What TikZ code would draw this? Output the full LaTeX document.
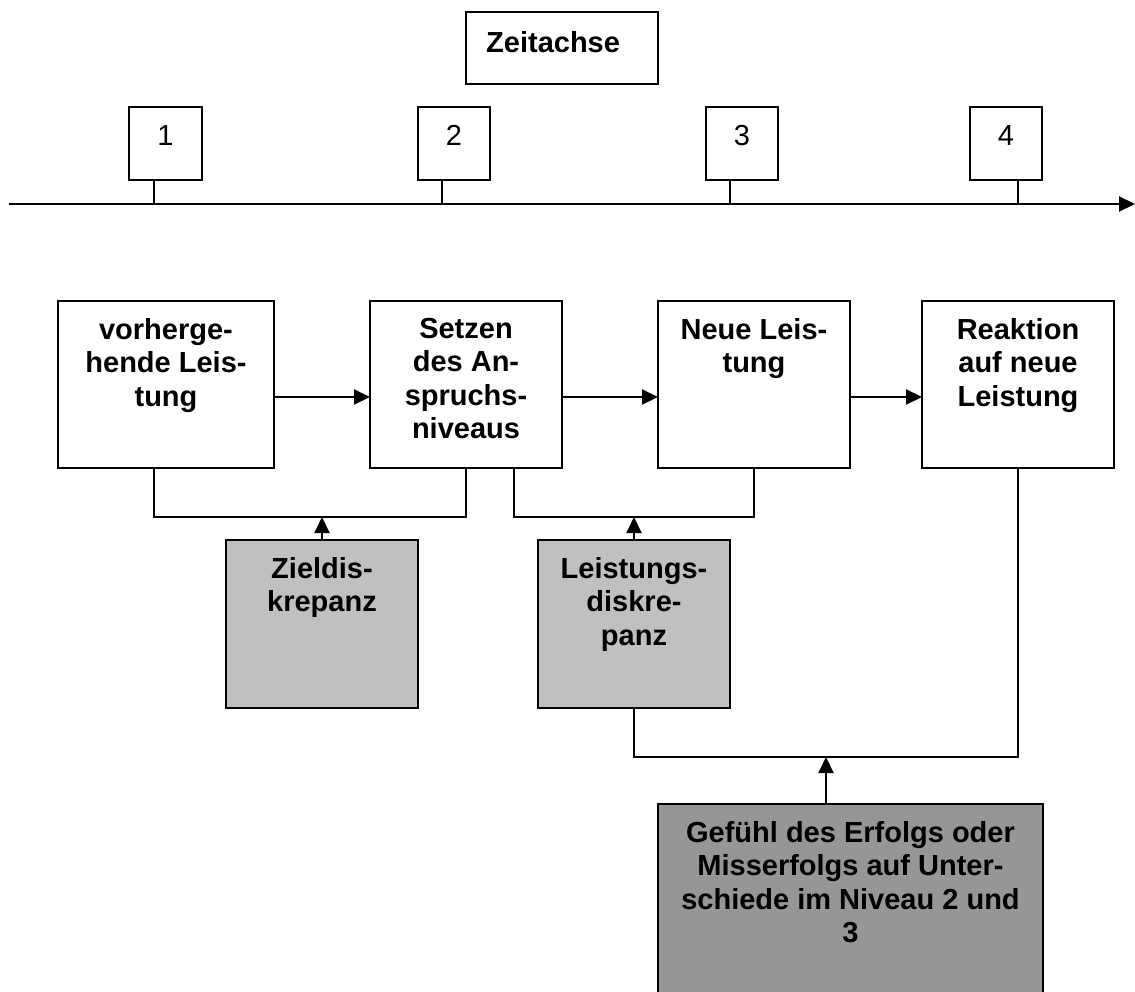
\documentclass[tikz,border=0pt]{standalone}
\usepackage{fontspec}
\setmainfont{Liberation Sans}
\usetikzlibrary{arrows.meta}
\definecolor{lightgrey}{HTML}{C0C0C0}
\definecolor{darkgrey}{HTML}{969696}
\tikzset{
  box/.style={draw=black, line width=2pt, fill=white, rectangle, inner sep=0pt, outer sep=0pt, anchor=north west},
  lbox/.style={box, fill=lightgrey},
  dbox/.style={box, fill=darkgrey},
  txt/.style={font=\bfseries\fontsize{29}{33.5}\selectfont, align=center, inner sep=0pt, anchor=north},
  num/.style={font=\fontsize{29}{33.5}\selectfont, inner sep=0pt, anchor=north},
  conn/.style={line width=2pt},
  arr/.style={line width=2pt, -{Triangle[length=16pt,width=15pt]}}
}
\begin{document}
\begin{tikzpicture}[x=1pt,y=-1pt]
\useasboundingbox (0,0) rectangle (1135,991);
\clip (0,0) rectangle (1135,991);
% time axis
\node[box, minimum width=192pt, minimum height=72pt] (zeit) at (466,12) {};
\node[txt, anchor=north west] (zeitT) at ([xshift=20pt,yshift=-19pt]zeit.north west) {Zeitachse};
\coordinate (axL) at (9,204);
\coordinate (axR) at (1135,204);
\draw[arr] (axL) -- (axR);
\node[box, minimum width=73pt, minimum height=73pt] (t1) at (129,107) {};
\node[box, minimum width=72pt, minimum height=73pt] (t2) at (418,107) {};
\node[box, minimum width=72pt, minimum height=73pt] (t3) at (706,107) {};
\node[box, minimum width=72pt, minimum height=73pt] (t4) at (970,107) {};
\node[num] (n1) at ([yshift=-18pt]t1.north) {1};
\node[num] (n2) at ([yshift=-18pt]t2.north) {2};
\node[num] (n3) at ([yshift=-18pt]t3.north) {3};
\node[num] (n4) at ([yshift=-18pt]t4.north) {4};
\draw[conn] ([xshift=25pt]t1.south west) -- ++(0,24);
\draw[conn] ([xshift=24pt]t2.south west) -- ++(0,24);
\draw[conn] ([xshift=24pt]t3.south west) -- ++(0,24);
\draw[conn] ([xshift=48pt]t4.south west) -- ++(0,24);
% main boxes
\node[box, minimum width=216pt, minimum height=167pt] (A) at (58,301) {};
\node[box, minimum width=192pt, minimum height=167pt] (B) at (370,301) {};
\node[box, minimum width=192pt, minimum height=167pt] (C) at (658,301) {};
\node[box, minimum width=192pt, minimum height=167pt] (D) at (922,301) {};
\node[txt] (At) at ([yshift=-17pt]A.north) {vorherge-\\hende Leis-\\tung};
\node[txt] (Bt) at ([yshift=-17pt]B.north) {Setzen\\des An-\\spruchs-\\niveaus};
\node[txt] (Ct) at ([yshift=-17pt]C.north) {Neue Leis-\\tung};
\node[txt] (Dt) at ([yshift=-17pt]D.north) {Reaktion\\auf neue\\Leistung};
\draw[arr] ([yshift=-12.5pt]A.east) -- ([yshift=-12.5pt]B.west);
\draw[arr] ([yshift=-12.5pt]B.east) -- ([yshift=-12.5pt]C.west);
\draw[arr] ([yshift=-12.5pt]C.east) -- ([yshift=-12.5pt]D.west);
% discrepancy boxes
\node[lbox, minimum width=192pt, minimum height=168pt] (Z) at (226,540) {};
\node[lbox, minimum width=192pt, minimum height=168pt] (L) at (538,540) {};
\node[txt] (Zt) at ([yshift=-17pt]Z.north) {Zieldis-\\krepanz};
\node[txt] (Lt) at ([yshift=-17pt]L.north) {Leistungs-\\diskre-\\panz};
\node[dbox, minimum width=385pt, minimum height=220pt] (G) at (658,804) {};
\node[txt] (Gt) at ([yshift=-17pt]G.north) {Gefühl des Erfolgs oder\\Misserfolgs auf Unter-\\schiede im Niveau 2 und\\3};
% brackets
\draw[conn] ([xshift=96pt]A.south west) -- ++(0,49) coordinate (b1) -| (B.south);
\draw[arr] (Z.north) -- (Z.north |- b1);
\draw[conn] ([xshift=-48pt]B.south east) -- ++(0,49) coordinate (b2) -| (C.south);
\draw[arr] (L.north) -- (L.north |- b2);
\draw[conn] (L.south) -- ++(0,49) coordinate (b3) -| (D.south);
\draw[arr] ([xshift=-24.5pt]G.north) -- ([xshift=-24.5pt]G.north |- b3);
\end{tikzpicture}
\end{document}
